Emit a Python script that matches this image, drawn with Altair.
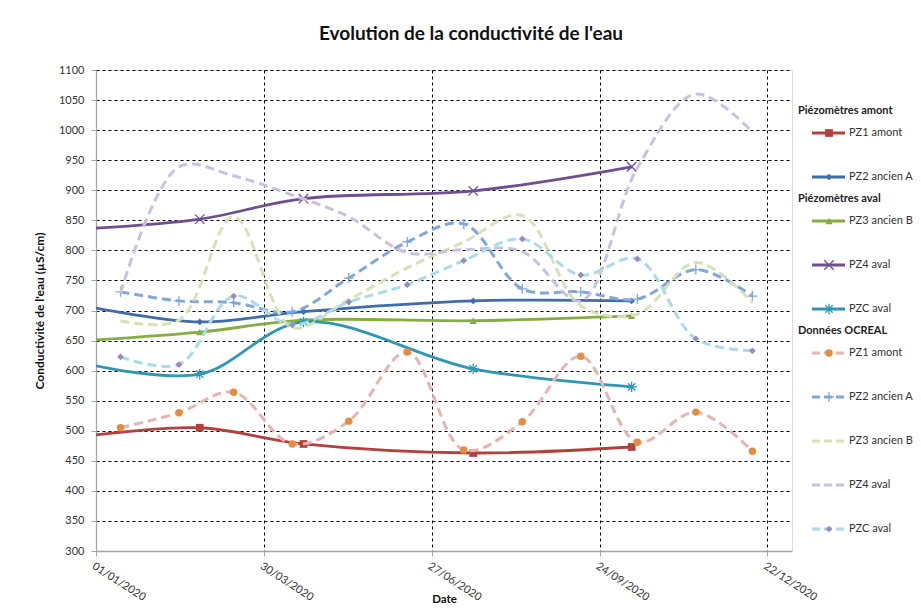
import altair as alt
import pandas as pd

# ---------------- data ----------------
series_names = ["PZ1 amont", "PZ2 ancien A", "PZ3 ancien B", "PZ4 aval", "PZC aval"]

# Piézomètres (solid lines) - first point is the unmarked start of the curve
solid_dates = ["2020-01-01", "2020-02-25", "2020-04-20", "2020-07-19", "2020-10-11"]
solid_marked = [False, True, True, True, True]
pz1_amont = [493, 505, 478, 463, 473]
pz2_ancien_a = [704, 681, 698, 716, 716]
pz3_ancien_b = [651, 664, 684, 683, 691]
pz4_aval = [837, 852, 886, 899, 939]
pzc_aval = [608, 594, 681, 603, 573]

# Données OCREAL (dashed lines), monthly
ocreal_dates = ["2020-01-14", "2020-02-14", "2020-03-14", "2020-04-14", "2020-05-14", "2020-06-14",
                "2020-07-14", "2020-08-14", "2020-09-14", "2020-10-14", "2020-11-14", "2020-12-14"]
ocreal_pz1 = [505, 530, 564, 478, 516, 631, 468, 515, 624, 481, 531, 466]
ocreal_pz2 = [731, 716, 713, 698, 754, 814, 844, 736, 731, 719, 768, 724]
ocreal_pz3 = [683, 684, 856, 672, 718, 771, 814, 858, 708, 694, 780, 713]
ocreal_pz4 = [729, 939, 924, 892, 856, 796, 801, 798, 716, 937, 1060, 997]
ocreal_pzc = [623, 610, 724, 676, 714, 743, 783, 819, 759, 786, 653, 633]

group_headers = ["Piézomètres amont", "Piézomètres aval", "Données OCREAL"]

y_ticks = list(range(300, 1101, 50))

# ---------------- styles ----------------
X_PATH = "M-1,-1L1,1M-1,1L1,-1"
AST_PATH = "M-1,0L1,0M0,-1L0,1M-0.7,-0.7L0.7,0.7M-0.7,0.7L0.7,-0.7"
PLUS_PATH = "M-1,0L1,0M0,-1L0,1"

solid_styles = [
    dict(color="#B3403C", mcolor="#B3403C", shape="square", filled=True, size=60),
    dict(color="#3E6DAA", mcolor="#3E6DAA", shape="diamond", filled=True, size=45),
    dict(color="#86AD42", mcolor="#86AD42", shape="triangle-up", filled=True, size=55),
    dict(color="#6D4F93", mcolor="#6D4F93", shape=X_PATH, filled=False, size=90),
    dict(color="#2E97B3", mcolor="#2E97B3", shape=AST_PATH, filled=False, size=110),
]
dash_styles = [
    dict(color="#E8B4B2", mcolor="#E88B3E", shape="circle", filled=True, size=55),
    dict(color="#80A8DE", mcolor="#80A8DE", shape=PLUS_PATH, filled=False, size=100),
    dict(color="#D5E2B6", mcolor=None, shape=None, filled=True, size=0),
    dict(color="#CBC1DF", mcolor=None, shape=None, filled=True, size=0),
    dict(color="#AADBE8", mcolor="#9B8BBB", shape="diamond", filled=True, size=45),
]
DASH = [9, 5]
FONT = "Lato"

# ---------------- long table ----------------
rows = []
solid_values = [pz1_amont, pz2_ancien_a, pz3_ancien_b, pz4_aval, pzc_aval]
ocreal_values = [ocreal_pz1, ocreal_pz2, ocreal_pz3, ocreal_pz4, ocreal_pzc]
for i, vals in enumerate(solid_values):
    for d, v, m in zip(solid_dates, vals, solid_marked):
        rows.append(dict(key=f"s{i}", date=d, value=v, marked=m))
for i, vals in enumerate(ocreal_values):
    for d, v in zip(ocreal_dates, vals):
        rows.append(dict(key=f"o{i}", date=d, value=v, marked=True))
df = pd.DataFrame(rows)

x_domain = [alt.DateTime(year=2020, month=1, date=1, utc=True),
            alt.DateTime(year=2021, month=1, date=4, utc=True)]
x_ticks = [alt.DateTime(year=2020, month=1, date=1, utc=True),
           alt.DateTime(year=2020, month=3, date=30, utc=True),
           alt.DateTime(year=2020, month=6, date=27, utc=True),
           alt.DateTime(year=2020, month=9, date=24, utc=True),
           alt.DateTime(year=2020, month=12, date=22, utc=True)]

x_axis = alt.Axis(values=x_ticks, labelExpr="utcFormat(datum.value, '%d/%m/%Y')",
                  labelAngle=33, labelAlign="left", labelBaseline="top",
                  labelFont=FONT, labelFontSize=11, labelColor="#333333", labelPadding=4,
                  title="Date", titleFont=FONT, titleFontSize=11.5, titleFontWeight="bold",
                  titleColor="#111111", titlePadding=-9,
                  grid=True, gridColor="#000000", gridDash=[3, 3], gridWidth=1,
                  domainColor="#A6A6A6", domainWidth=1.3, tickColor="#A6A6A6", tickSize=5)
y_axis = alt.Axis(values=y_ticks, format="d", labelFont=FONT, labelFontSize=11, labelColor="#333333",
                  labelPadding=7,
                  title="Conductivité de l'eau (µS/cm)", titleFont=FONT, titleFontSize=12,
                  titleFontWeight="bold", titleColor="#111111", titlePadding=12,
                  grid=True, gridColor="#000000", gridDash=[3, 3], gridWidth=1,
                  domainColor="#A6A6A6", domainWidth=1.3, tickColor="#A6A6A6", tickSize=5)

X = alt.X("date:T", scale=alt.Scale(type="utc", domain=x_domain), axis=x_axis)
Y_first = alt.Y("value:Q", scale=alt.Scale(domain=[300, 1100]), axis=y_axis)
Y = alt.Y("value:Q", scale=alt.Scale(domain=[300, 1100]), axis=None)

layers = []
first = True
all_styles = [("s", i, st) for i, st in enumerate(solid_styles)] + [("o", i, st) for i, st in enumerate(dash_styles)]
for grp, i, st in all_styles:
    key = f"{grp}{i}"
    base = alt.Chart(df).transform_filter(alt.datum.key == key)
    line_kw = dict(interpolate="catmull-rom", strokeWidth=2.8 if grp == "s" else 3,
                   color=st["color"], clip=True)
    if grp == "o":
        line_kw["strokeDash"] = DASH
    line = base.mark_line(**line_kw).encode(x=X, y=Y_first if first else Y)
    first = False
    layers.append(line)
    if st["shape"] is not None:
        pts = base.transform_filter(alt.datum.marked == True)
        if st["filled"]:
            pm = pts.mark_point(shape=st["shape"], filled=True, fill=st["mcolor"], size=st["size"],
                                opacity=1, strokeWidth=0)
        else:
            pm = pts.mark_point(shape=st["shape"], filled=False, stroke=st["mcolor"], size=st["size"],
                                opacity=1, strokeWidth=1.3)
        layers.append(pm.encode(x=X, y=Y))

# ---------------- custom legend ----------------
# slot index: items 0..9, headers half a slot above their first item
legend_items = []
for i, name in enumerate(series_names):
    legend_items.append(dict(slot=i, label=name))
for i, name in enumerate(series_names):
    legend_items.append(dict(slot=5 + i, label=name))
legend_headers = [dict(slot=-0.5, label=group_headers[0]),
                  dict(slot=1.5, label=group_headers[1]),
                  dict(slot=4.5, label=group_headers[2])]
leg_scale = alt.Scale(domain=[-1.432, 9.5], reverse=True)
LY = alt.Y("slot:Q", scale=leg_scale, axis=None)

layers.append(alt.Chart(pd.DataFrame(legend_items)).mark_text(
    align="left", baseline="middle", font=FONT, fontSize=11, color="#333333").encode(
    x=alt.value(753), y=LY, text="label:N"))
layers.append(alt.Chart(pd.DataFrame(legend_headers)).mark_text(
    align="left", baseline="middle", font=FONT, fontSize=11, fontWeight="bold", color="#222222").encode(
    x=alt.value(702), y=LY, text="label:N"))

for idx, (grp, i, st) in enumerate(all_styles):
    one = alt.Chart(pd.DataFrame([legend_items[idx]]))
    rule_kw = dict(color=st["color"], strokeWidth=2.8 if grp == "s" else 3)
    if grp == "o":
        rule_kw["strokeDash"] = [8, 4]
    layers.append(one.mark_rule(**rule_kw).encode(x=alt.value(716), x2=alt.value(749), y=LY))
    if st["shape"] is not None:
        if st["filled"]:
            pm = one.mark_point(shape=st["shape"], filled=True, fill=st["mcolor"], size=st["size"],
                                opacity=1, strokeWidth=0)
        else:
            pm = one.mark_point(shape=st["shape"], filled=False, stroke=st["mcolor"], size=st["size"],
                                opacity=1, strokeWidth=1.3)
        layers.append(pm.encode(x=alt.value(733), y=LY))

chart = alt.layer(*layers).resolve_scale(y="independent").properties(
    width=696, height=481,
    autosize=alt.AutoSizeParams(type="none"),
    padding={"left": 88, "top": 62, "right": 121, "bottom": 53},
    title=alt.TitleParams("Evolution de la conductivité de l'eau", font=FONT, fontSize=19,
                          fontWeight="bold", color="#111111", anchor="middle", dx=27, offset=20),
).configure_view(stroke=None).configure(background="white")

chart.save("out.html", embed_options={"renderer": "svg", "actions": False})
